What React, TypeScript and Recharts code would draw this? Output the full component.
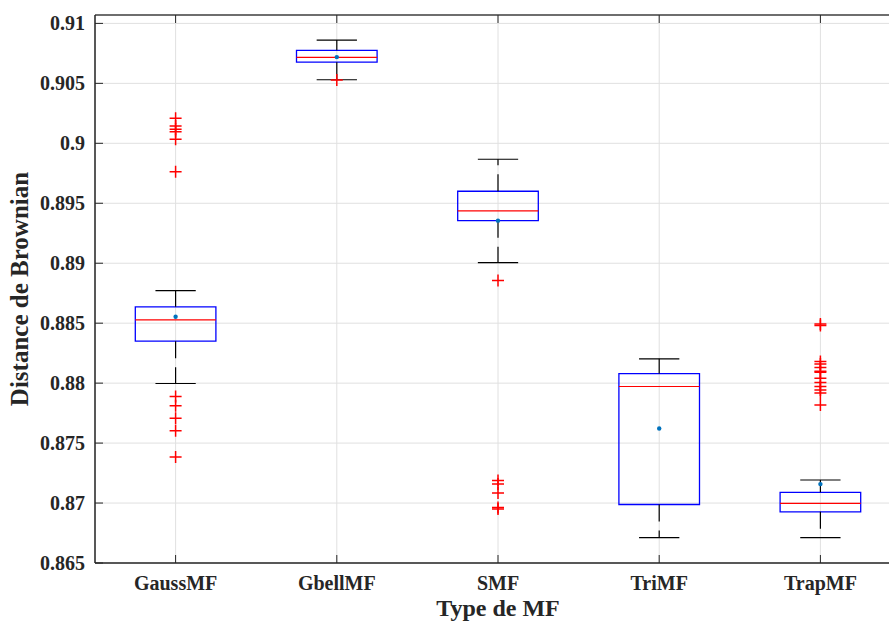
import React from "react";
import {
  ComposedChart,
  Scatter,
  XAxis,
  YAxis,
  CartesianGrid,
  ReferenceArea,
  ReferenceLine,
  Label,
} from "recharts";

const categories = ["GaussMF", "GbellMF", "SMF", "TriMF", "TrapMF"];

// box statistics, one entry per category
const lowerWhisker = [0.87997, 0.9053, 0.89005, 0.86711, 0.86711];
const q1 = [0.8835, 0.90677, 0.89355, 0.86988, 0.86927];
const median = [0.88528, 0.90717, 0.89436, 0.87972, 0.86997];
const q3 = [0.88636, 0.90775, 0.896, 0.8808, 0.87089];
const upperWhisker = [0.88772, 0.90861, 0.89867, 0.88203, 0.87192];
const means = [0.88553, 0.90719, 0.89355, 0.87622, 0.87158];

const outliers = [
  [0.90208, 0.90144, 0.90117, 0.90097, 0.90033, 0.89763, 0.87888, 0.87811, 0.87708, 0.87602, 0.87383],
  [0.90527],
  [0.88855, 0.87188, 0.87158, 0.87083, 0.86963, 0.8695],
  [],
  [0.88494, 0.8848, 0.8818, 0.8816, 0.8813, 0.881, 0.8809, 0.8804, 0.88005, 0.87972, 0.87942, 0.87917, 0.87817],
];

const yTicks = [0.865, 0.87, 0.875, 0.88, 0.885, 0.89, 0.895, 0.9, 0.905, 0.91];
const xTicks = [1, 2, 3, 4, 5];
const yDomain = [0.865, 0.9107];

const outlierPoints = outliers.flatMap((list, i) => list.map((v) => ({ x: i + 1, y: v })));
const meanPoints = means.map((v, i) => ({ x: i + 1, y: v }));

const AXIS = "#262626";
const FONT = "'Liberation Serif', 'Times New Roman', serif";
const BOX_HALF = 0.25;
const CAP_HALF = 0.125;

const PlusShape = (props: any) => {
  const { cx, cy } = props;
  return (
    <path
      d={`M${cx - 6},${cy}h12M${cx},${cy - 6}v12`}
      stroke="#ff0000"
      strokeWidth={1.5}
      fill="none"
    />
  );
};

const MeanDot = (props: any) => {
  const { cx, cy } = props;
  return <circle cx={cx} cy={cy} r={2.2} fill="#0072BD" />;
};

const renderYTitle = (props: any) => {
  const vb = props.viewBox || { x: 0, y: 15, width: 95, height: 548 };
  const x = vb.x + 28;
  const y = vb.y + vb.height / 2;
  return (
    <text
      x={x}
      y={y}
      transform={`rotate(-90, ${x}, ${y})`}
      textAnchor="middle"
      fontFamily={FONT}
      fontWeight="bold"
      fontSize={25}
      fill={AXIS}
    >
      Distance de Brownian
    </text>
  );
};

const renderXTitle = (props: any) => {
  const vb = props.viewBox || { x: 95, y: 563, width: 806, height: 60 };
  return (
    <text
      x={vb.x + vb.width / 2}
      y={vb.y + 53}
      textAnchor="middle"
      fontFamily={FONT}
      fontWeight="bold"
      fontSize={24}
      fill={AXIS}
    >
      Type de MF
    </text>
  );
};

const fmtY = (v: number) => String(Number(v.toFixed(3)));

export default function App() {
  const tickStyle = { fontSize: 20, fontWeight: "bold", fill: AXIS, fontFamily: FONT };
  return (
    <div
      style={{
        position: "absolute",
        left: 0,
        top: 0,
        width: 889,
        height: 623,
        overflow: "hidden",
        background: "#fff",
      }}
    >
      <ComposedChart
        width={901}
        height={623}
        margin={{ top: 14, right: 0, bottom: 0, left: 0 }}
        style={{ fontFamily: FONT }}
      >
        <CartesianGrid stroke="#e0e0e0" strokeWidth={1} />
        <XAxis
          type="number"
          dataKey="x"
          domain={[0.5, 5.5]}
          ticks={xTicks}
          interval={0}
          allowDataOverflow
          height={60}
          tickFormatter={(i: number) => categories[i - 1]}
          tick={tickStyle}
          tickSize={-8}
          tickMargin={21}
          axisLine={{ stroke: AXIS, strokeWidth: 1.5 }}
          tickLine={{ stroke: AXIS }}
        >
          <Label content={renderXTitle} />
        </XAxis>
        <XAxis
          xAxisId="top"
          orientation="top"
          type="number"
          dataKey="x"
          domain={[0.5, 5.5]}
          ticks={xTicks}
          interval={0}
          allowDataOverflow
          height={1}
          tickFormatter={() => ""}
          tickSize={-8}
          axisLine={false}
          tickLine={{ stroke: AXIS }}
        />
        <YAxis
          type="number"
          dataKey="y"
          domain={yDomain}
          ticks={yTicks}
          interval={0}
          allowDataOverflow
          width={95}
          tickFormatter={fmtY}
          tick={tickStyle}
          tickSize={-8}
          tickMargin={18}
          axisLine={{ stroke: AXIS, strokeWidth: 1.5 }}
          tickLine={{ stroke: AXIS }}
        >
          <Label content={renderYTitle} />
        </YAxis>

        {/* top frame line */}
        <ReferenceLine y={yDomain[1]} stroke="#6e6e6e" strokeWidth={2} ifOverflow="visible" />

        {categories.map((c, i) => (
          <ReferenceArea
            key={`box-${c}`}
            x1={i + 1 - BOX_HALF}
            x2={i + 1 + BOX_HALF}
            y1={q1[i]}
            y2={q3[i]}
            fill="none"
            fillOpacity={0}
            stroke="#0000ff"
            strokeWidth={1.3}
            ifOverflow="visible"
          />
        ))}
        {categories.map((c, i) => (
          <ReferenceLine
            key={`uw-${c}`}
            segment={[
              { x: i + 1, y: q3[i] },
              { x: i + 1, y: upperWhisker[i] },
            ]}
            stroke="#000"
            strokeWidth={1.2}
            strokeDasharray="17 9"
            ifOverflow="visible"
          />
        ))}
        {categories.map((c, i) => (
          <ReferenceLine
            key={`lw-${c}`}
            segment={[
              { x: i + 1, y: q1[i] },
              { x: i + 1, y: lowerWhisker[i] },
            ]}
            stroke="#000"
            strokeWidth={1.2}
            strokeDasharray="17 9"
            ifOverflow="visible"
          />
        ))}
        {categories.map((c, i) => (
          <ReferenceLine
            key={`uc-${c}`}
            segment={[
              { x: i + 1 - CAP_HALF, y: upperWhisker[i] },
              { x: i + 1 + CAP_HALF, y: upperWhisker[i] },
            ]}
            stroke="#000"
            strokeWidth={1.2}
            ifOverflow="visible"
          />
        ))}
        {categories.map((c, i) => (
          <ReferenceLine
            key={`lc-${c}`}
            segment={[
              { x: i + 1 - CAP_HALF, y: lowerWhisker[i] },
              { x: i + 1 + CAP_HALF, y: lowerWhisker[i] },
            ]}
            stroke="#000"
            strokeWidth={1.2}
            ifOverflow="visible"
          />
        ))}
        {categories.map((c, i) => (
          <ReferenceLine
            key={`med-${c}`}
            segment={[
              { x: i + 1 - BOX_HALF, y: median[i] },
              { x: i + 1 + BOX_HALF, y: median[i] },
            ]}
            stroke="#ff0000"
            strokeWidth={1.2}
            ifOverflow="visible"
          />
        ))}

        <Scatter
          data={outlierPoints}
          dataKey="y"
          shape={PlusShape}
          isAnimationActive={false}
        />
        <Scatter
          data={meanPoints}
          dataKey="y"
          shape={MeanDot}
          isAnimationActive={false}
        />
      </ComposedChart>
    </div>
  );
}
